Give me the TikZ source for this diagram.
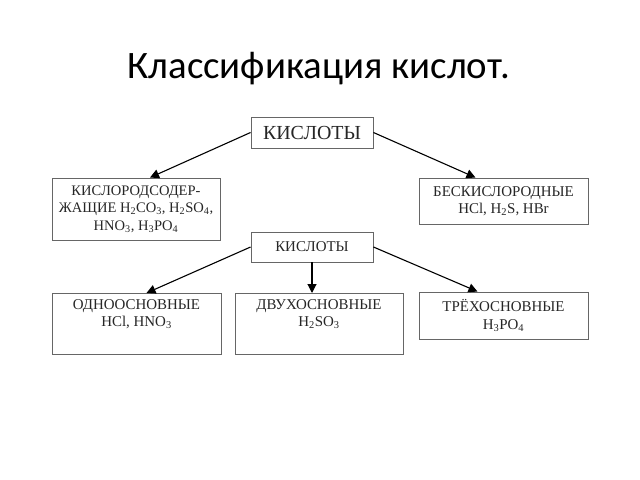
\documentclass[tikz,border=0pt]{standalone}
\usepackage{fontspec}
\setmainfont{Liberation Serif}
\newfontfamily\titlefont{Carlito}
\usetikzlibrary{arrows,arrows.meta,shapes}

\begin{document}
\begin{tikzpicture}[box/.style={draw=black!60,line width=0.9bp,rectangle,align=center,inner sep=1bp,text=black!85,font=\fontsize{15}{17.5}\selectfont},
arr/.style={-{Triangle[length=9bp,width=9bp]},line width=1.1bp}]
\useasboundingbox (0bp,0bp) rectangle (640bp,-480bp);

\node (title) at (319bp,-78bp)[anchor=base] {\titlefont\fontsize{39}{44}\selectfont Классификация кислот.};

\node (acids) at (312bp,-132.5bp)[box,minimum width=122bp,minimum height=31bp,font=\fontsize{20}{24}\selectfont] {КИСЛОТЫ};
\node (oxy) at (136bp,-209bp)[box,minimum width=168bp,minimum height=62bp,font=\fontsize{14.6}{17.5}\selectfont] {КИСЛОРОДСОДЕР-\\ЖАЩИЕ H\textsubscript{2}CO\textsubscript{3}, H\textsubscript{2}SO\textsubscript{4},\\HNO\textsubscript{3}, H\textsubscript{3}PO\textsubscript{4}};
\node (nonoxy) at (503.5bp,-201bp)[box,minimum width=169bp,minimum height=46bp] {БЕСКИСЛОРОДНЫЕ\\HCl, H\textsubscript{2}S, HBr};

\node (acids2) at (312bp,-247bp)[box,minimum width=122bp,minimum height=30bp] {КИСЛОТЫ};
\node (mono) at (136.5bp,-293bp)[box,anchor=north,minimum width=169bp,minimum height=61bp] {\rule{0pt}{14bp}ОДНООСНОВНЫЕ\\HCl, HNO\textsubscript{3}\rule[-26bp]{0pt}{0pt}};
\node (di) at (319bp,-293bp)[box,anchor=north,minimum width=168bp,minimum height=61bp] {\rule{0pt}{14bp}ДВУХОСНОВНЫЕ\\H\textsubscript{2}SO\textsubscript{3}\rule[-26bp]{0pt}{0pt}};
\node (tri) at (503.5bp,-315.5bp)[box,minimum width=169bp,minimum height=47bp] {ТРЁХОСНОВНЫЕ\\H\textsubscript{3}PO\textsubscript{4}};

\draw [arr] (acids.west) to ([xshift=14bp]oxy.north);
\draw [arr] (acids.east) to ([xshift=-28bp]nonoxy.north);
\draw [arr] (acids2.west) to ([xshift=10bp]mono.north);
\draw [arr] (acids2.south) to (acids2.south |- di.north);
\draw [arr] (acids2.east) to ([xshift=-26bp]tri.north);
\end{tikzpicture}
\end{document}
